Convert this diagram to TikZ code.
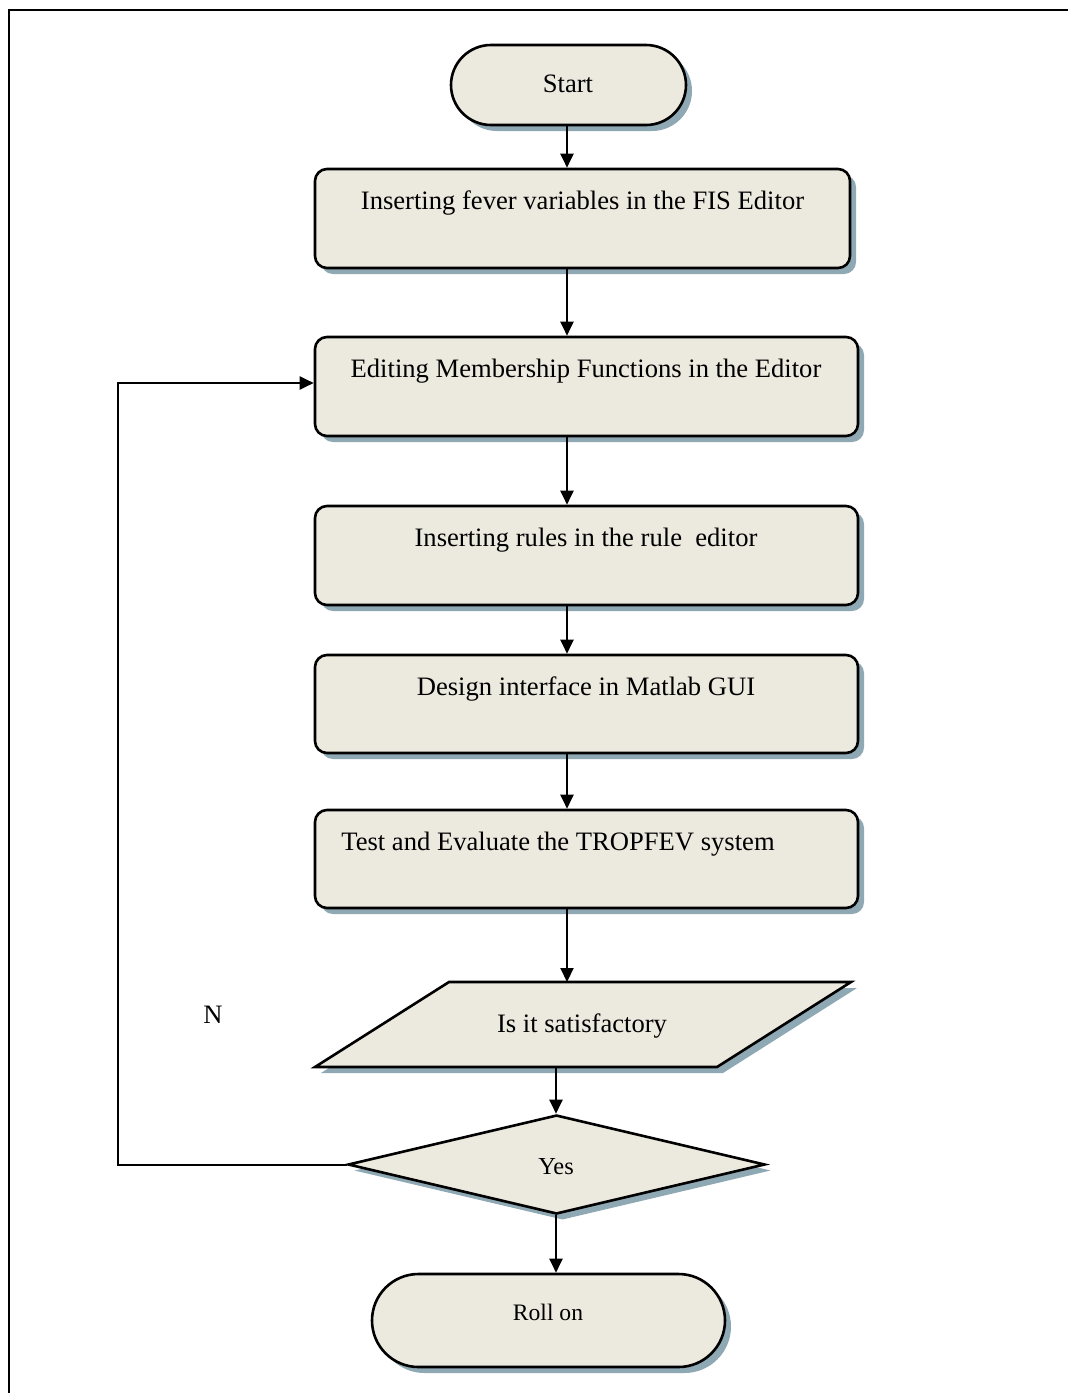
\documentclass[tikz,border=0pt]{standalone}
\usepackage{fontspec}
\setmainfont{Liberation Serif}
\usetikzlibrary{shapes.misc,shapes.geometric,shadows,arrows.meta}

\definecolor{boxfill}{HTML}{ECE9DF}
\definecolor{shadowc}{HTML}{8EA8B4}

\tikzset{
  shade3/.style={drop shadow={shadow xshift=3pt, shadow yshift=-3pt, fill=shadowc, opacity=1}},
  outline/.style={draw=black, line width=1.3pt, fill=boxfill, shade3},
  terminal/.style={outline, rounded rectangle, inner sep=0pt},
  stepbox/.style={outline, rectangle, rounded corners=6pt, minimum width=271.5pt,
                  minimum height=49.5pt, inner sep=0pt},
  decision/.style={outline, diamond, aspect=4.2, inner sep=0pt,
                   minimum width=208.5pt, minimum height=49.5pt},
  txt/.style={font=\fontsize{13.3pt}{16pt}\selectfont, inner sep=0pt, anchor=base},
  flow/.style={line width=1pt, -{Triangle[length=7pt,width=6.5pt]}},
  frame/.style={line width=1.1pt}
}

\begin{document}
\begin{tikzpicture}[x=0.5pt, y=-0.5pt]
  \useasboundingbox (0,0) rectangle (1067,1393);
  \fill[white] (0,0) rectangle (1067,1393);

  % outer frame (only top and left edges fall inside the page)
  \draw[frame] (9,1400) -- (9,10) -- (1075,10);

  % spine x positions for the vertical connectors
  \coordinate (sp) at (567,0);
  \coordinate (sq) at (556,0);
  \coordinate (lp) at (118,0);

  % start / end terminals
  \node[terminal, minimum width=117.5pt, minimum height=40pt] (start) at (568.5,85) {};
  \node[txt] (startT) at (568,92) {Start};

  % process steps
  \node[stepbox, minimum width=267.5pt] (b1) at (582.5,218.5) {};
  \node[txt] (b1T) at (582.5,209) {Inserting fever variables in the FIS Editor};

  \node[stepbox] (b2) at (586.5,386.5) {};
  \node[txt] (b2T) at (586,377) {Editing Membership Functions in the Editor};

  \node[stepbox] (b3) at (586.5,555.5) {};
  \node[txt] (b3T) at (586,546) {Inserting rules in the rule\ \ editor};

  \node[stepbox, minimum height=49pt] (b4) at (586.5,704) {};
  \node[txt] (b4T) at (586,695) {Design interface in Matlab GUI};

  \node[stepbox, minimum height=49pt] (b5) at (586.5,859) {};
  \node[txt, anchor=base west] (b5T) at (341,850) {Test and Evaluate the TROPFEV system};

  % input/output parallelogram
  \path[outline] (449,982) -- (851,982) -- (717,1067) -- (315,1067) -- cycle;
  \coordinate (paraT) at (567,982);
  \coordinate (paraB) at (556,1067);
  \node[txt] (paraTx) at (582,1032) {Is it satisfactory};

  % decision
  \node[decision] (dia) at (556.5,1164.5) {};
  \node[txt, font=\fontsize{12.2pt}{15pt}\selectfont] (diaT) at (556,1174) {Yes};

  \node[terminal, minimum width=176.5pt, minimum height=46.5pt] (roll) at (548.5,1320.5) {};
  \node[txt, font=\fontsize{11.8pt}{14pt}\selectfont] (rollT) at (548,1320) {Roll on};

  % loop-back label
  \node[txt] (nlab) at (213,1023) {N};

  % connectors
  \draw[flow] (start.south -| sp) -- (b1.north -| sp);
  \draw[flow] (b1.south -| sp) -- (b2.north -| sp);
  \draw[flow] (b2.south -| sp) -- (b3.north -| sp);
  \draw[flow] (b3.south -| sp) -- (b4.north -| sp);
  \draw[flow] (b4.south -| sp) -- (b5.north -| sp);
  \draw[flow] (b5.south -| sp) -- (paraT);
  \draw[flow] (paraB) -- (dia.north -| sq);
  \draw[flow] (dia.south -| sq) -- (roll.north -| sq);
  \draw[flow] (dia.west) -- (dia.west -| lp) -- ([yshift=1.75pt]b2.west -| lp) -- ([yshift=1.75pt]b2.west);
\end{tikzpicture}
\end{document}
